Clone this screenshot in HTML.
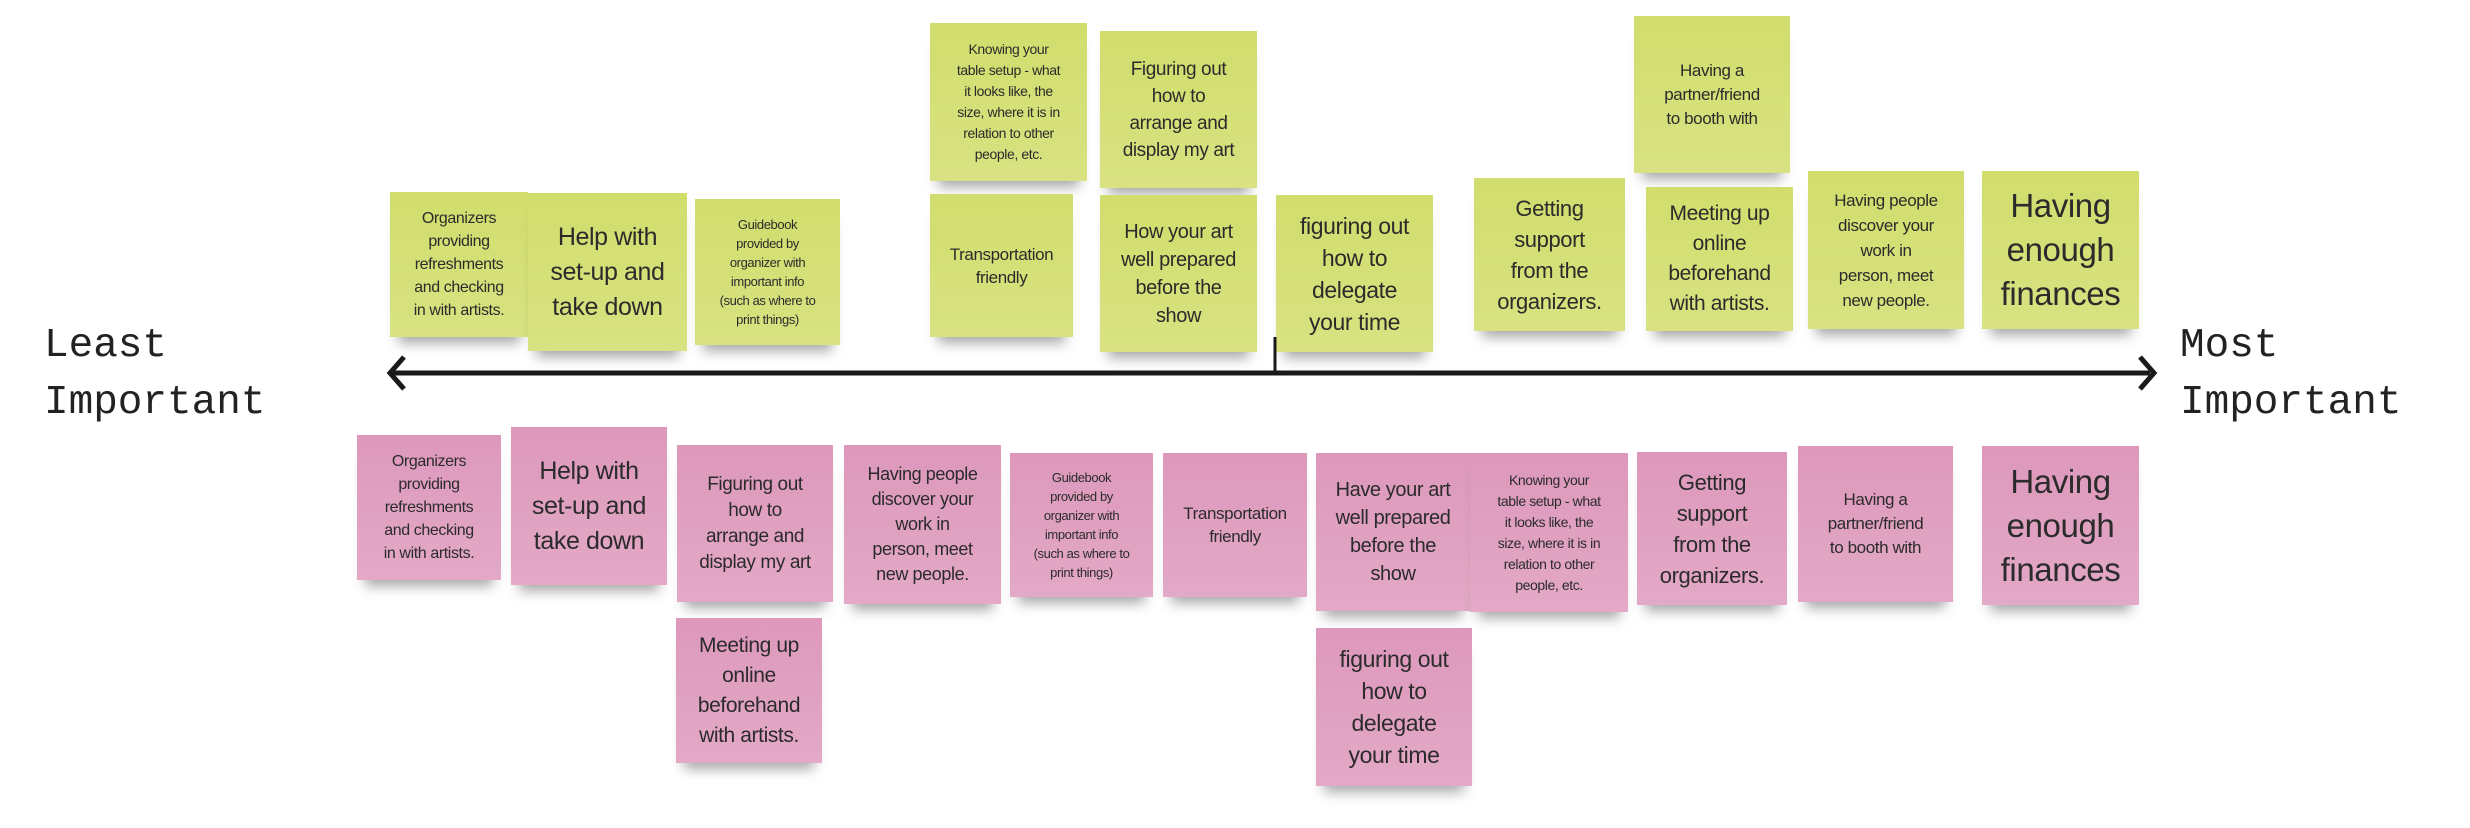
<!DOCTYPE html>
<html><head><meta charset="utf-8"><style>
html,body{margin:0;padding:0;background:#fff;}
body{width:2470px;height:828px;position:relative;overflow:hidden;font-family:"Liberation Sans",sans-serif;}
.n{position:absolute;display:flex;align-items:center;justify-content:center;text-align:center;color:#2b2b2b;box-sizing:border-box;padding:0 2px;box-shadow:0 14px 12px -8px rgba(0,0,0,.35);letter-spacing:-0.4px;white-space:nowrap;}
.g{background:linear-gradient(#d1dd6c,#d8e282);}
.p{background:linear-gradient(#dd98bb,#e3a9c6);}
.lbl{position:absolute;font-family:"Liberation Mono","DejaVu Sans Mono",monospace;font-size:41px;line-height:57px;color:#222;}
</style></head><body>
<div class="lbl" style="left:44px;top:318px">Least<br>Important</div>
<div class="lbl" style="left:2180px;top:318px">Most<br>Important</div>

<!-- green -->
<div class="n g" style="left:390px;top:192px;width:138px;height:145px;font-size:16px;line-height:23px">Organizers<br>providing<br>refreshments<br>and checking<br>in with artists.</div>
<div class="n g" style="left:528px;top:193px;width:159px;height:158px;font-size:25px;line-height:35px">Help with<br>set-up and<br>take down</div>
<div class="n g" style="left:695px;top:199px;width:145px;height:146px;font-size:13px;line-height:19px">Guidebook<br>provided by<br>organizer with<br>important info<br>(such as where to<br>print things)</div>
<div class="n g" style="left:930px;top:23px;width:157px;height:158px;font-size:14px;line-height:21px">Knowing your<br>table setup - what<br>it looks like, the<br>size, where it is in<br>relation to other<br>people, etc.</div>
<div class="n g" style="left:930px;top:194px;width:143px;height:143px;font-size:17px;line-height:23px">Transportation<br>friendly</div>
<div class="n g" style="left:1100px;top:31px;width:157px;height:157px;font-size:19px;line-height:27px">Figuring out<br>how to<br>arrange and<br>display my art</div>
<div class="n g" style="left:1100px;top:195px;width:157px;height:157px;font-size:20px;line-height:28px">How your art<br>well prepared<br>before the<br>show</div>
<div class="n g" style="left:1276px;top:195px;width:157px;height:157px;font-size:23px;line-height:32px">figuring out<br>how to<br>delegate<br>your time</div>
<div class="n g" style="left:1474px;top:178px;width:151px;height:153px;font-size:22px;line-height:31px">Getting<br>support<br>from the<br>organizers.</div>
<div class="n g" style="left:1634px;top:16px;width:156px;height:157px;font-size:17px;line-height:24px">Having a<br>partner/friend<br>to booth with</div>
<div class="n g" style="left:1646px;top:187px;width:147px;height:144px;font-size:21px;line-height:30px">Meeting up<br>online<br>beforehand<br>with artists.</div>
<div class="n g" style="left:1808px;top:171px;width:156px;height:158px;font-size:17px;line-height:25px">Having people<br>discover your<br>work in<br>person, meet<br>new people.</div>
<div class="n g" style="left:1982px;top:171px;width:157px;height:158px;font-size:33px;line-height:44px">Having<br>enough<br>finances</div>

<!-- axis -->
<svg style="position:absolute;left:0;top:0" width="2470" height="828">
<line x1="392" y1="373" x2="2150" y2="373" stroke="#1a1a1a" stroke-width="5"/>
<polyline points="404,357 390,373 404,389" fill="none" stroke="#1a1a1a" stroke-width="5"/>
<polyline points="2140,357 2154,373 2140,389" fill="none" stroke="#1a1a1a" stroke-width="5"/>
<line x1="1275" y1="337" x2="1275" y2="373" stroke="#1a1a1a" stroke-width="3"/>
</svg>

<!-- pink -->
<div class="n p" style="left:357px;top:435px;width:144px;height:145px;font-size:16px;line-height:23px">Organizers<br>providing<br>refreshments<br>and checking<br>in with artists.</div>
<div class="n p" style="left:511px;top:427px;width:156px;height:158px;font-size:25px;line-height:35px">Help with<br>set-up and<br>take down</div>
<div class="n p" style="left:677px;top:445px;width:156px;height:157px;font-size:19px;line-height:26px">Figuring out<br>how to<br>arrange and<br>display my art</div>
<div class="n p" style="left:676px;top:618px;width:146px;height:145px;font-size:21px;line-height:30px">Meeting up<br>online<br>beforehand<br>with artists.</div>
<div class="n p" style="left:844px;top:445px;width:157px;height:159px;font-size:18px;line-height:25px">Having people<br>discover your<br>work in<br>person, meet<br>new people.</div>
<div class="n p" style="left:1010px;top:453px;width:143px;height:144px;font-size:13px;line-height:19px">Guidebook<br>provided by<br>organizer with<br>important info<br>(such as where to<br>print things)</div>
<div class="n p" style="left:1163px;top:453px;width:144px;height:144px;font-size:17px;line-height:23px">Transportation<br>friendly</div>
<div class="n p" style="left:1316px;top:453px;width:154px;height:158px;font-size:20px;line-height:28px">Have your art<br>well prepared<br>before the<br>show</div>
<div class="n p" style="left:1470px;top:453px;width:158px;height:159px;font-size:14px;line-height:21px">Knowing your<br>table setup - what<br>it looks like, the<br>size, where it is in<br>relation to other<br>people, etc.</div>
<div class="n p" style="left:1637px;top:452px;width:150px;height:153px;font-size:22px;line-height:31px">Getting<br>support<br>from the<br>organizers.</div>
<div class="n p" style="left:1798px;top:446px;width:155px;height:156px;font-size:17px;line-height:24px">Having a<br>partner/friend<br>to booth with</div>
<div class="n p" style="left:1982px;top:446px;width:157px;height:159px;font-size:33px;line-height:44px">Having<br>enough<br>finances</div>
<div class="n p" style="left:1316px;top:628px;width:156px;height:158px;font-size:23px;line-height:32px">figuring out<br>how to<br>delegate<br>your time</div>
</body></html>
